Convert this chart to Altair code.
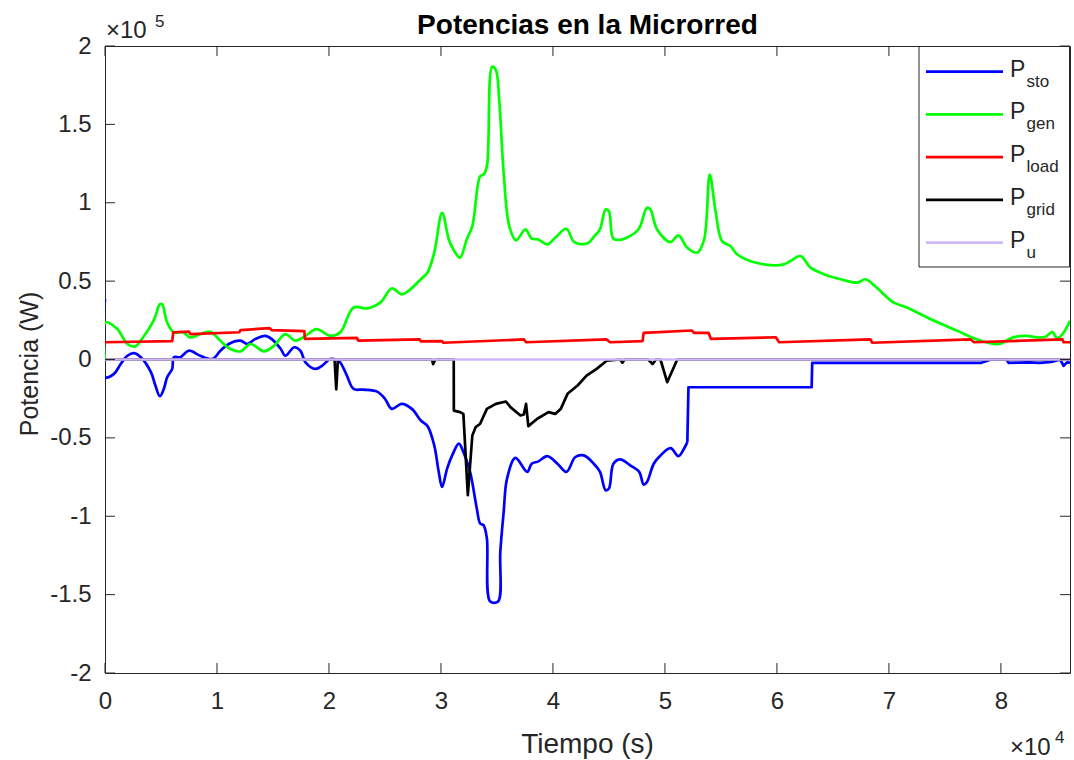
import altair as alt
import pandas as pd

# ---------------- data (time in 1e4 s, power in 1e5 W) ----------------
STO_T = [0, 0.003, 0.08, 0.14, 0.20, 0.26, 0.32, 0.41, 0.45, 0.49,
         0.525, 0.555, 0.60, 0.615, 0.67, 0.75, 0.85, 0.96, 1.03, 1.105,
         1.21, 1.27, 1.34, 1.43, 1.49, 1.57, 1.61, 1.69, 1.745, 1.79,
         1.88, 1.94, 2.01, 2.06, 2.10, 2.16, 2.22, 2.31, 2.43, 2.50,
         2.56, 2.65, 2.74, 2.82, 2.88, 2.94, 2.98, 3.01, 3.055, 3.10,
         3.16, 3.20, 3.26, 3.32, 3.35, 3.38, 3.41, 3.44, 3.51, 3.53,
         3.56, 3.59, 3.665, 3.77, 3.81, 3.87, 3.95, 4.04, 4.12, 4.20,
         4.275, 4.365, 4.42, 4.47, 4.50, 4.54, 4.60, 4.69, 4.77, 4.81,
         4.84, 4.90, 4.96, 5.05, 5.12, 5.17, 5.20, 5.21, 6.31, 6.315,
         7.82, 7.91, 8.05, 8.07, 8.15, 8.25, 8.35, 8.45, 8.53, 8.56,
         8.59, 8.617]
STO_P = [0.385, -0.113, -0.092, -0.029, 0.024, 0.041, 0.014, -0.081, -0.166, -0.234,
         -0.188, -0.113, -0.06, 0.014, 0.014, 0.056, 0.024, 0.003, 0.056, 0.099,
         0.12, 0.099, 0.13, 0.151, 0.13, 0.067, 0.024, 0.078, 0.056, -0.018,
         -0.06, -0.039, 0.003, 0.0, -0.018, -0.103, -0.188, -0.192, -0.205, -0.251,
         -0.315, -0.283, -0.315, -0.389, -0.425, -0.548, -0.717, -0.813, -0.696, -0.612,
         -0.537, -0.590, -0.717, -0.951, -1.046, -1.057, -1.141, -1.544, -1.544, -1.226,
         -0.972, -0.760, -0.628, -0.717, -0.665, -0.650, -0.616, -0.665, -0.717, -0.622,
         -0.612, -0.665, -0.717, -0.834, -0.823, -0.665, -0.637, -0.675, -0.717, -0.798,
         -0.781, -0.665, -0.612, -0.565, -0.616, -0.569, -0.527, -0.177, -0.177, -0.022,
         -0.022, 0.0, 0.0, -0.022, -0.02, -0.018, -0.022, -0.015, 0.0, -0.04,
         -0.018, -0.02]
STO_SMOOTH_END = 5.20  # smooth curve up to here, straight steps afterwards

GEN_T = [0, 0.004, 0.11, 0.20, 0.27, 0.35, 0.44, 0.49, 0.51, 0.555,
         0.615, 0.70, 0.76, 0.85, 0.94, 1.03, 1.12, 1.21, 1.30, 1.42,
         1.51, 1.61, 1.70, 1.79, 1.89, 2.01, 2.10, 2.22, 2.34, 2.46,
         2.56, 2.65, 2.71, 2.82, 2.88, 2.94, 3.01, 3.07, 3.11, 3.17,
         3.23, 3.28, 3.35, 3.38, 3.41, 3.457, 3.49, 3.52, 3.56, 3.61,
         3.67, 3.755, 3.81, 3.87, 3.95, 4.02, 4.12, 4.19, 4.31, 4.37,
         4.42, 4.47, 4.50, 4.54, 4.62, 4.75, 4.78, 4.84, 4.87, 4.93,
         5.05, 5.12, 5.20, 5.29, 5.35, 5.40, 5.45, 5.51, 5.585, 5.645,
         5.76, 5.97, 6.06, 6.12, 6.21, 6.30, 6.42, 6.57, 6.72, 6.79,
         6.89, 7.04, 7.16, 7.37, 7.61, 7.82, 7.98, 8.11, 8.23, 8.32,
         8.40, 8.46, 8.50, 8.55, 8.617]
GEN_P = [0.0, 0.238, 0.194, 0.099, 0.084, 0.151, 0.258, 0.353, 0.353, 0.236,
         0.173, 0.173, 0.141, 0.162, 0.177, 0.12, 0.067, 0.052, 0.099, 0.052,
         0.088, 0.162, 0.12, 0.151, 0.194, 0.151, 0.173, 0.332, 0.326, 0.364,
         0.453, 0.416, 0.438, 0.512, 0.555, 0.682, 0.936, 0.766, 0.703, 0.650,
         0.766, 0.851, 1.169, 1.180, 1.232, 1.868, 1.847, 1.657, 1.190, 0.851,
         0.760, 0.830, 0.771, 0.766, 0.734, 0.777, 0.834, 0.749, 0.741, 0.787,
         0.830, 0.957, 0.946, 0.771, 0.766, 0.819, 0.851, 0.968, 0.957, 0.830,
         0.749, 0.792, 0.713, 0.682, 0.766, 1.180, 0.957, 0.755, 0.724, 0.671,
         0.628, 0.601, 0.607, 0.628, 0.660, 0.586, 0.544, 0.512, 0.491, 0.512,
         0.459, 0.364, 0.332, 0.258, 0.183, 0.120, 0.099, 0.141, 0.151, 0.141,
         0.145, 0.177, 0.135, 0.162, 0.247]

LOAD_T = [0, 0.60, 0.61, 0.75, 0.763, 1.20, 1.21, 1.47, 1.49, 1.78,
          1.785, 2.25, 2.26, 2.81, 2.82, 3.01, 3.02, 3.74, 3.76, 4.48,
          4.51, 4.80, 4.81, 5.24, 5.26, 5.39, 5.41, 5.99, 6.02, 6.835,
          6.85, 7.73, 7.76, 8.55, 8.56, 8.617]
LOAD_P = [0.110, 0.117, 0.174, 0.178, 0.162, 0.174, 0.188, 0.200, 0.187, 0.181,
          0.132, 0.138, 0.121, 0.128, 0.115, 0.117, 0.107, 0.128, 0.110, 0.128,
          0.110, 0.117, 0.170, 0.185, 0.170, 0.170, 0.132, 0.142, 0.110, 0.128,
          0.107, 0.128, 0.110, 0.128, 0.110, 0.110]

GRID_T = [0, 2.05, 2.065, 2.08, 2.10, 2.92, 2.93, 2.95, 3.114, 3.115,
          3.17, 3.20, 3.24, 3.28, 3.31, 3.35, 3.41, 3.49, 3.58, 3.62,
          3.71, 3.74, 3.76, 3.78, 3.86, 3.96, 4.02, 4.07, 4.13, 4.22,
          4.30, 4.39, 4.48, 4.60, 4.62, 4.64, 4.85, 4.89, 4.92, 4.96,
          5.02, 5.11, 8.617]
GRID_P = [0, 0, -0.19, 0, 0, 0, -0.03, 0, 0, -0.326,
          -0.336, -0.347, -0.866, -0.485, -0.431, -0.41, -0.315, -0.283, -0.268, -0.304,
          -0.357, -0.351, -0.283, -0.425, -0.378, -0.336, -0.347, -0.315, -0.219, -0.166,
          -0.103, -0.06, -0.008, 0, -0.02, 0, 0, -0.029, 0, 0,
          -0.145, 0, 0]

U_T = [0, 8.617]
U_P = [0, 0]

SERIES_NAMES = ["sto", "gen", "load", "grid", "u"]
SERIES_COLORS = ["#0000ff", "#00ff00", "#ff0000", "#000000", "#d0b8f8"]

X_TICKS = [0, 1, 2, 3, 4, 5, 6, 7, 8]
Y_TICKS = [-2, -1.5, -1, -0.5, 0, 0.5, 1, 1.5, 2]

# ---------------- layout ----------------
W, H = 965, 627
XMAX = 8.617
FONT = "Liberation Sans"
AX_COL = "#262626"
TICK_FS = 24
LW = 2.7

xs = alt.Scale(domain=[0, XMAX], nice=False, zero=False)
ys = alt.Scale(domain=[-2, 2], nice=False, zero=False)

X_AX = alt.Axis(values=X_TICKS, labelExpr="'' + datum.value", ticks=False, domain=False,
                grid=False, labelFont=FONT, labelFontSize=TICK_FS, labelColor=AX_COL,
                labelPadding=16, title="", labelFlush=False)
Y_AX = alt.Axis(values=Y_TICKS, labelExpr="'' + datum.value", ticks=False, domain=False,
                grid=False, labelFont=FONT, labelFontSize=TICK_FS, labelColor=AX_COL,
                labelPadding=14, title="", labelFlush=False)


def xenc():
    return alt.X("t:Q", scale=xs, axis=X_AX)


def yenc():
    return alt.Y("p:Q", scale=ys, axis=Y_AX)


def line_layer(tt, pp, col, curve):
    rows = [{"t": a, "p": b, "i": k} for k, (a, b) in enumerate(zip(tt, pp))]
    df = pd.DataFrame(rows)
    return (alt.Chart(df)
            .mark_line(color=col, strokeWidth=LW, clip=True, strokeJoin="round", interpolate=curve)
            .encode(x=xenc(), y=yenc(), order="i:Q"))


layers = []
ks = STO_T.index(STO_SMOOTH_END)
layers.append(line_layer(STO_T[:ks + 1], STO_P[:ks + 1], SERIES_COLORS[0], "catmull-rom"))
layers.append(line_layer(STO_T[ks:], STO_P[ks:], SERIES_COLORS[0], "linear"))
layers.append(line_layer(GEN_T, GEN_P, SERIES_COLORS[1], "catmull-rom"))
layers.append(line_layer(LOAD_T, LOAD_P, SERIES_COLORS[2], "linear"))
layers.append(line_layer(GRID_T, GRID_P, SERIES_COLORS[3], "linear"))
layers.append(line_layer(U_T, U_P, SERIES_COLORS[4], "linear"))

# inward tick marks on all four sides
xt = pd.DataFrame({"t": X_TICKS})
yt = pd.DataFrame({"p": Y_TICKS})
tick_style = dict(color=AX_COL, strokeWidth=1)
layers.append(alt.Chart(xt).mark_rule(**tick_style).encode(x=xenc(), y=alt.value(H - 10), y2=alt.value(H)))
layers.append(alt.Chart(xt).mark_rule(**tick_style).encode(x=xenc(), y=alt.value(0), y2=alt.value(10)))
layers.append(alt.Chart(yt).mark_rule(**tick_style).encode(y=yenc(), x=alt.value(0), x2=alt.value(10)))
layers.append(alt.Chart(yt).mark_rule(**tick_style).encode(y=yenc(), x=alt.value(W - 10), x2=alt.value(W)))

one = pd.DataFrame({"a": [0]})


def text(s, x, y, size, weight="normal", align="left", baseline="alphabetic", angle=0):
    kw = dict(font=FONT, fontSize=size, fontWeight=weight, align=align,
              baseline=baseline, color="#000000" if weight == "bold" else AX_COL)
    if angle:
        kw["angle"] = angle
    return alt.Chart(one).mark_text(**kw).encode(
        x=alt.value(x), y=alt.value(y), text=alt.value(s))


# titles
layers.append(text("Potencias en la Microrred", W / 2, -12, 28, weight="bold", align="center"))
layers.append(text("Tiempo (s)", W / 2, H + 80, 28, align="center"))
layers.append(text("Potencia (W)", -75, 318, 25, align="center", baseline="middle", angle=270))

# exponent labels
layers.append(text("\u00d710", 1, -8, TICK_FS))
layers.append(text("5", 50, -19, 17))
layers.append(text("\u00d710", 905, H + 82, TICK_FS))
layers.append(text("4", 950, H + 70, 17))

# legend
LX0, LX1 = 814, W - 0.5
LY0, LY1 = 0.5, 221
layers.append(alt.Chart(one).mark_rect(fill="white", stroke=AX_COL, strokeWidth=1).encode(
    x=alt.value(LX0), x2=alt.value(LX1), y=alt.value(LY0), y2=alt.value(LY1)))
for k, (name, col) in enumerate(zip(SERIES_NAMES, SERIES_COLORS)):
    ly = 25.7 + k * 42.75
    layers.append(alt.Chart(one).mark_rule(color=col, strokeWidth=LW).encode(
        x=alt.value(821), x2=alt.value(898), y=alt.value(ly)))
    layers.append(text("P", 905, ly + 5, 23))
    layers.append(text(name, 921.5, ly + 15, 17))

chart = alt.layer(*layers).properties(
    width=W, height=H,
    autosize=alt.AutoSizeParams(type="none"),
    padding={"left": 105, "top": 46, "right": 4, "bottom": 87},
    background="white",
).configure_view(stroke=AX_COL, strokeWidth=1)

chart.save("out.html", embed_options={"renderer": "svg", "actions": False})
